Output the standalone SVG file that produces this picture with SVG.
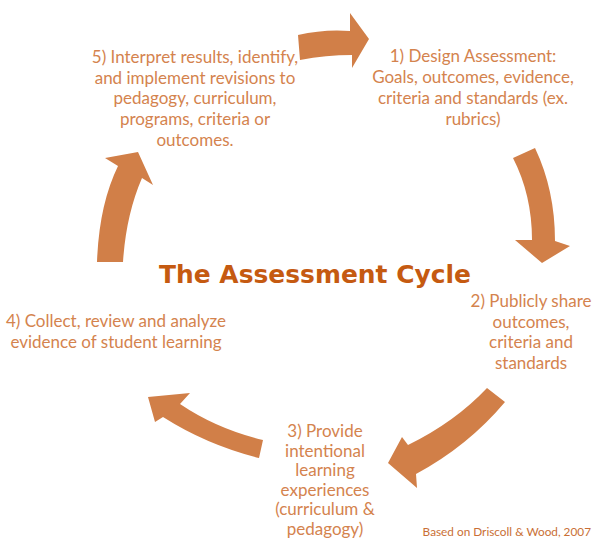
<svg xmlns="http://www.w3.org/2000/svg" width="594" height="542" viewBox="0 0 594 542">
<style>
.arrow{fill:#d17f48;}
.lbl{font-family:Lato,"Open Sans","Liberation Sans",sans-serif;font-size:17px;fill:#d4834e;text-anchor:middle;}
.title{font-family:"DejaVu Sans","Liberation Sans",sans-serif;font-weight:bold;font-size:25px;fill:#c55a11;}
.cite{font-family:Lato,"Open Sans","Liberation Sans",sans-serif;font-size:11.8px;fill:#c96f35;text-anchor:end;}
</style>
<rect width="594" height="542" fill="#ffffff"/>
<g id="connectors">
<path id="arrow1" class="arrow" d="M298,35 Q324,29 350,31 L350,13 L369,39 L352,68 L352,55 Q326,55 300,60 Z"/>
<path id="arrow2" class="arrow" d="M513,158 L535,148 Q555,190 555,241 L570,246 L542,263 L515,240 L532,240 Q532,195 513,158 Z"/>
<path id="arrow3" class="arrow" d="M487,388 L505,402 Q468,446 416,474 L417,488 L388,463 L402,437 L408,445 Q455,422 487,388 Z"/>
<path id="arrow4" class="arrow" d="M190,393 L180,404 Q217,429 263,440 L259,458 Q207,445 163,417 L155,422 L148,397 Z"/>
<path id="arrow5" class="arrow" d="M97,262 Q99,205 118,166 L105,158 L138,152 L153,185 L142,178 Q126,215 123,262 Z"/>
</g>
<g id="title"><text class="title" x="159" y="283" textLength="312" lengthAdjust="spacingAndGlyphs">The Assessment Cycle</text></g>
<g id="node1">
<text class="lbl" x="473" y="62">1) Design Assessment:</text>
<text class="lbl" x="473" y="83">Goals, outcomes, evidence,</text>
<text class="lbl" x="473" y="104">criteria and standards (ex.</text>
<text class="lbl" x="473" y="125">rubrics)</text>
</g>
<g id="node2">
<text class="lbl" x="531" y="307">2) Publicly share</text>
<text class="lbl" x="531" y="327.5">outcomes,</text>
<text class="lbl" x="531" y="348">criteria and</text>
<text class="lbl" x="531" y="368.5">standards</text>
</g>
<g id="node3">
<text class="lbl" x="325" y="437">3) Provide</text>
<text class="lbl" x="325" y="456.5">intentional</text>
<text class="lbl" x="325" y="476">learning</text>
<text class="lbl" x="325" y="495.5">experiences</text>
<text class="lbl" x="325" y="515">(curriculum &amp;</text>
<text class="lbl" x="325" y="534.5">pedagogy)</text>
</g>
<g id="node4">
<text class="lbl" x="116" y="327">4) Collect, review and analyze</text>
<text class="lbl" x="116" y="348">evidence of student learning</text>
</g>
<g id="node5">
<text class="lbl" x="195" y="63">5) Interpret results, identify,</text>
<text class="lbl" x="195" y="83.7">and implement revisions to</text>
<text class="lbl" x="195" y="104.4">pedagogy, curriculum,</text>
<text class="lbl" x="195" y="125.1">programs, criteria or</text>
<text class="lbl" x="195" y="145.8">outcomes.</text>
</g>
<g id="citation"><text class="cite" x="591" y="536">Based on Driscoll &amp; Wood, 2007</text></g>
</svg>
